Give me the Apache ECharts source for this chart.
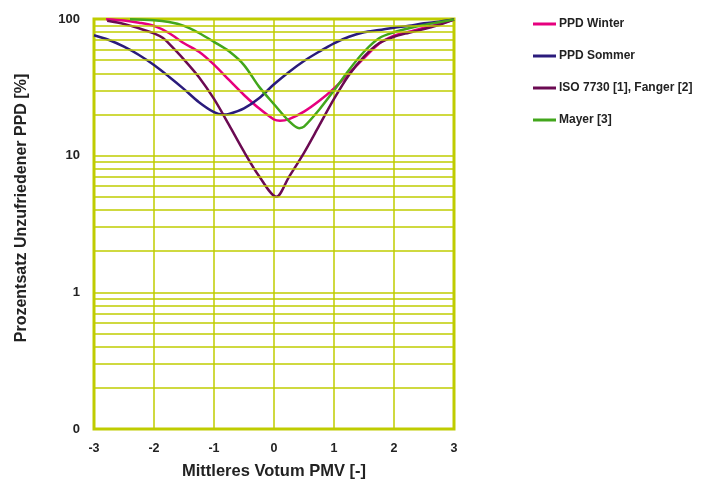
<!DOCTYPE html>
<html>
<head>
<meta charset="utf-8">
<script src="https://cdn.jsdelivr.net/npm/echarts@6/dist/echarts.min.js"></script>
<style>html,body{margin:0;padding:0;background:#fff}#c{width:707px;height:480px}</style>
</head>
<body>
<div id="c"></div>
<script>
const seriesNames = ['PPD Winter', 'PPD Sommer', 'ISO 7730 [1], Fanger [2]', 'Mayer [3]'];
const winterData = [[-2.8,99.5],[-2.5,97.5],[-2.25,94],[-2,89],[-1.75,79],[-1.5,66.4],[-1.25,57.5],[-1,46.3],[-0.75,35.8],[-0.5,27.8],[-0.25,22.2],[0,18.4],[0.1,18],[0.25,18.5],[0.5,21],[0.75,25.1],[1,31.1],[1.25,40],[1.5,51.7],[1.75,66],[2,75.5],[2.25,80.7],[2.5,86.4],[2.75,91.9],[3,99]];
const sommerData = [[-3,76],[-2.75,70.2],[-2.5,62.7],[-2.25,54.5],[-2,46],[-1.75,37.8],[-1.5,30.7],[-1.25,24.6],[-1,20.8],[-0.85,20],[-0.75,20.2],[-0.5,22.2],[-0.25,26.3],[0,33.3],[0.25,41],[0.5,49.3],[0.75,57.6],[1,66.4],[1.25,74.2],[1.5,80],[1.75,83],[2,86.4],[2.25,89.3],[2.5,93],[2.75,95.5],[3,99]];
const isoData = [[-2.78,97],[-2.5,92],[-2.25,85.5],[-2,78.5],[-1.85,72.5],[-1.75,66],[-1.5,50.5],[-1.25,37.5],[-1,26],[-0.75,16.8],[-0.5,10.7],[-0.25,7.1],[0.04,5],[0.25,7],[0.5,10.5],[0.75,16.5],[1,26],[1.25,38.9],[1.5,53],[1.75,66.4],[2,74.2],[2.25,79.4],[2.5,84.5],[2.75,90.4],[3,99]];
const mayerData = [[-2.4,99.5],[-2,98],[-1.75,95],[-1.5,89],[-1.25,79],[-1,68],[-0.75,58],[-0.5,46],[-0.25,32],[0,23.8],[0.25,17.9],[0.42,15.9],[0.5,16.3],[0.75,21.6],[1,30],[1.25,42.4],[1.5,57.6],[1.75,72.3],[2,80],[2.25,85.5],[2.5,90.4],[2.75,94.6],[3,99]];
const minorGridValues = [0.2,0.3,0.4,0.5,0.6,0.7,0.8,0.9,2,3,4,5,6,7,8,9,20,30,40,50,60,70,80,90];
const xTicks = [-3,-2,-1,0,1,2,3];

const gridColor = '#bfcc00';
const colors = ['#e6007e', '#2a1b7c', '#6b0a52', '#42a61c'];
const font = 'Liberation Sans, Arial, sans-serif';

const chart = echarts.init(document.getElementById('c'), null, {renderer:'canvas'});
const dataSets = [winterData, sommerData, isoData, mayerData];
const series = [{
  name: 'grid',
  type: 'line',
  data: [],
  z: 1,
  silent: true,
  markLine: {
    silent: true,
    symbol: ['none','none'],
    label: {show:false},
    lineStyle: {color: gridColor, width: 1.5, type: 'solid'},
    data: minorGridValues.map(v => ({yAxis: v}))
  }
}];
dataSets.forEach((d, i) => {
  series.push({
    name: seriesNames[i],
    type: 'line',
    data: d,
    smooth: 0.3,
    showSymbol: false,
    symbol: 'none',
    z: 3,
    lineStyle: {color: colors[i], width: 2.5},
    itemStyle: {color: colors[i]}
  });
});

chart.setOption({
  animation: false,
  backgroundColor: '#fff',
  grid: {left: 94, right: 253, top: 19, bottom: 51, show: true, borderColor: gridColor, borderWidth: 3, outerBoundsMode: 'none', containLabel: false},
  legend: {
    data: seriesNames,
    orient: 'vertical',
    left: 528,
    top: 13,
    itemGap: 20,
    itemWidth: 23,
    itemHeight: 3,
    icon: 'rect',
    textStyle: {fontFamily: font, fontWeight: 'bold', fontSize: 12, color: '#222', padding: [0,0,0,-2]}
  },
  xAxis: {
    type: 'value', min: -3, max: 3, interval: 1,
    name: 'Mittleres Votum PMV [-]',
    nameLocation: 'middle', nameGap: 34,
    nameTextStyle: {fontFamily: font, fontWeight: 'bold', fontSize: 16.5, color: '#222'},
    axisLine: {show: false},
    axisTick: {show: false},
    axisLabel: {fontFamily: font, fontWeight: 'bold', fontSize: 12.5, color: '#222', margin: 13,
      formatter: v => xTicks.includes(v) ? String(v) : ''},
    splitLine: {show: true, lineStyle: {color: gridColor, width: 1.5}}
  },
  yAxis: {
    type: 'log', logBase: 10, min: 0.1, max: 100,
    name: 'Prozentsatz Unzufriedener PPD [%]',
    nameLocation: 'middle', nameGap: 64, nameRotate: 90,
    nameTextStyle: {fontFamily: font, fontWeight: 'bold', fontSize: 16, color: '#222', padding: [0,0,0,32]},
    axisLine: {show: false},
    axisTick: {show: false},
    axisLabel: {fontFamily: font, fontWeight: 'bold', fontSize: 13, color: '#222', margin: 14,
      formatter: v => (Math.abs(v - 0.1) < 1e-9 ? '0' : String(Math.round(v)))},
    splitLine: {show: true, lineStyle: {color: gridColor, width: 1.5}}
  },
  series: series
});
</script>
</body>
</html>
